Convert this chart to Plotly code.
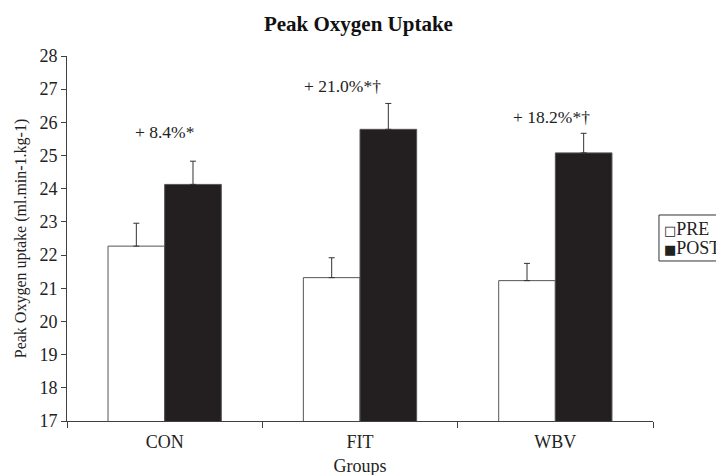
import plotly.graph_objects as go

groups = ["CON", "FIT", "WBV"]
pre_values = [22.27, 21.32, 21.23]
pre_errors = [0.69, 0.60, 0.52]
post_values = [24.13, 25.79, 25.08]
post_errors = [0.70, 0.78, 0.59]
labels = ["+ 8.4%*", "+ 21.0%*†", "+ 18.2%*†"]
label_y = [25.7, 27.09, 26.15]
label_shift = [0, -18, -4]
legend_names = ["PRE", "POST"]
legend_marks = ["□", "■"]

FONT = "Liberation Serif, Times New Roman, serif"
AX = "#404040"
TXT = "#222222"

fig = go.Figure()
fig.add_trace(go.Bar(
    x=groups, y=pre_values, name=legend_names[0],
    marker=dict(color="white", line=dict(color="#555555", width=1)),
    error_y=dict(type="data", array=pre_errors, arrayminus=[0] * 3, symmetric=False,
                 color="#333333", thickness=1, width=3),
))
fig.add_trace(go.Bar(
    x=groups, y=post_values, name=legend_names[1],
    marker=dict(color="#231f20", line=dict(color="#555555", width=1)),
    error_y=dict(type="data", array=post_errors, arrayminus=[0] * 3, symmetric=False,
                 color="#333333", thickness=1, width=3),
))

for g, t, yv, dx in zip(groups, labels, label_y, label_shift):
    fig.add_annotation(x=g, y=yv, text=t, showarrow=False,
                       xshift=dx, font=dict(family=FONT, size=17.5, color=TXT))

# legend drawn as a box with text entries (unicode squares), like the reference
fig.add_shape(type="rect", xref="paper", yref="paper",
              x0=1.0102, x1=1.16, y0=0.4384, y1=0.5644,
              line=dict(color="#333333", width=1), fillcolor="white", layer="above")
for name, mark, yy in zip(legend_names, legend_marks, [0.526, 0.474]):
    fig.add_annotation(
        xref="paper", yref="paper", x=1.0155, y=yy, xanchor="left", yanchor="middle",
        text=f'<span style="font-family:DejaVu Sans;font-size:13px">{mark}</span>{name}',
        align="left", showarrow=False,
        font=dict(family=FONT, size=18, color=TXT),
    )

fig.update_layout(
    width=724, height=475,
    margin=dict(l=59, r=79, t=48, b=62, autoexpand=False),
    paper_bgcolor="white", plot_bgcolor="white",
    barmode="group", bargap=0.42, bargroupgap=0,
    title=dict(text="<b>Peak Oxygen Uptake</b>", x=0.484, xanchor="center",
               y=0.967, yanchor="middle",
               font=dict(family=FONT, size=21, color="#111111")),
    font=dict(family=FONT, size=16, color=TXT),
    showlegend=False,
)
fig.update_xaxes(
    showline=True, linecolor=AX, linewidth=1,
    ticks="outside", tickson="boundaries", ticklen=6, tickcolor=AX,
    ticklabelstandoff=4,
    tickfont=dict(family=FONT, size=18, color=TXT),
    title=dict(text="Groups", font=dict(family=FONT, size=18, color=TXT), standoff=8),
    showgrid=False,
)
fig.update_yaxes(
    range=[17, 28], dtick=1, showline=True, linecolor=AX, linewidth=1,
    ticks="outside", ticklen=5, tickcolor=AX,
    tickfont=dict(family=FONT, size=18, color=TXT),
    title=dict(text="Peak Oxygen uptake (ml.min-1.kg-1)",
               font=dict(family=FONT, size=16, color=TXT), standoff=8),
    showgrid=False, zeroline=False,
)

fig.write_html("out.html")
